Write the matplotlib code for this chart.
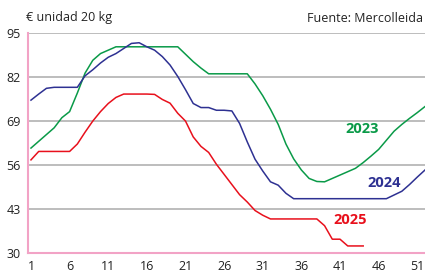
import matplotlib.pyplot as plt

# precio cerdo, semanas 1-52
weeks = list(range(1, 53))

y2023 = [61, 63, 65, 67, 70, 71.8, 77.3, 83.2, 87, 89, 90, 91,
         91, 91, 91, 91, 91, 91, 91, 91, 88.8, 86.6, 84.7, 83,
         83, 83, 83, 83, 83, 80, 76.5, 72.5, 68, 62.2, 57.8, 54.5,
         52, 51.1, 51, 52, 53, 54, 55, 56.7, 58.6, 60.6, 63.3, 66,
         68, 69.8, 71.5, 73.3]

y2024 = [75.2, 77, 78.7, 79, 79, 79, 79, 82.4, 84.2, 86.2, 87.9, 89,
         90.5, 92, 92.2, 91, 90, 88.1, 85.6, 82.2, 78.3, 74.2, 73, 73,
         72.2, 72.2, 72, 68.3, 62.8, 57.7, 54.2, 51, 50, 47.6, 46, 46,
         46, 46, 46, 46, 46, 46, 46, 46, 46, 46, 46, 47.1, 48.2, 50.2,
         52.4, 54.5]

y2025 = [57.5, 60, 60, 60, 60, 60, 62.2, 65.7, 69, 71.8, 74.2, 76,
         77, 77, 77, 77, 76.9, 75.4, 74.3, 71.3, 69, 64.3, 61.5, 59.7,
         56.2, 53.2, 50.2, 47.2, 45, 42.5, 41.1, 40, 40, 40, 40, 40,
         40, 40, 38, 34, 34, 32, 32, 32]

yticks = [30, 43, 56, 69, 82, 95]
xticks = [1, 6, 11, 16, 21, 26, 31, 36, 41, 46, 51]

c23 = '#0a9a48'
c24 = '#2e3192'
c25 = '#e8101c'
pink = '#f2a3c6'

plt.rcParams['font.family'] = ['Open Sans', 'DejaVu Sans']

fig = plt.figure(figsize=(4.25, 2.73), dpi=100)
ax = fig.add_axes([27.5 / 425, 1 - 252.7 / 273, 1 - 27.5 / 425, (252.7 - 33.3) / 273])

ax.plot(weeks, y2023, color=c23, lw=1.1)
ax.plot(weeks, y2024, color=c24, lw=1.1)
ax.plot(weeks[:len(y2025)], y2025, color=c25, lw=1.1)

ax.set_xlim(0.55, 52)
ax.set_ylim(30, 95)
ax.set_yticks(yticks)
ax.set_xticks(xticks)
ax.tick_params(length=0, labelsize=9, colors='#222222')
ax.tick_params(axis='x', pad=5)
ax.tick_params(axis='y', pad=5)

for v in yticks[1:]:
    ax.axhline(v, color='#b8b8b8', lw=1.3, zorder=0)

for s in ['top', 'right']:
    ax.spines[s].set_visible(False)
for s in ['left', 'bottom']:
    ax.spines[s].set_color(pink)
    ax.spines[s].set_linewidth(1.5)

ax.text(43.9, 66.6, '2023', color=c23, fontsize=10.5, fontweight='bold', ha='center', va='center')
ax.text(46.7, 50.7, '2024', color=c24, fontsize=10.5, fontweight='bold', ha='center', va='center')
ax.text(42.3, 39.6, '2025', color=c25, fontsize=10.5, fontweight='bold', ha='center', va='center')

fig.text(26 / 425, 1 - 18 / 273, '€ unidad 20 kg', fontsize=9, va='center', ha='left', color='#222222')
# en el original el texto queda cortado por el borde; aquí se deja entero
fig.text(423 / 425, 1 - 18 / 273, 'Fuente: Mercolleida', fontsize=9, va='center', ha='right', color='#222222')

fig.savefig('out.png', dpi=100)
